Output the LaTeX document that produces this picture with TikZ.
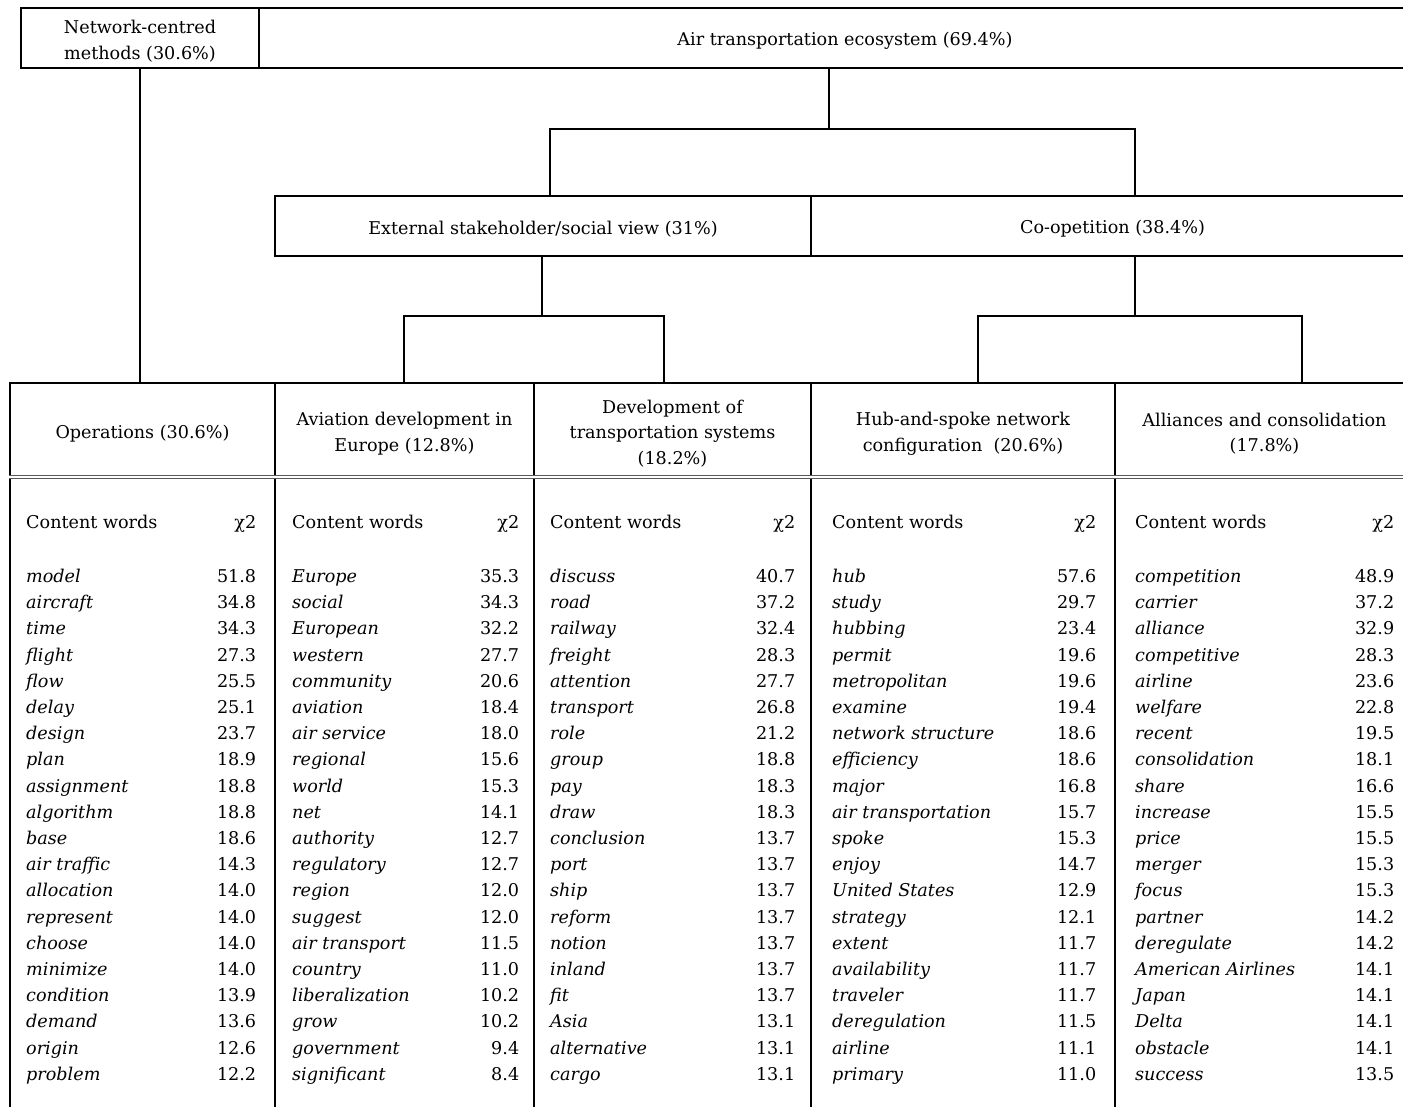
\documentclass[tikz,border=0pt]{standalone}
\usepackage{fontspec}
\setmainfont{DejaVu Serif}
\usepackage{array}
\newcommand\fs{\fontsize{17.6}{25.5}\selectfont}
\newcommand\lfs{\fontsize{17.6}{26.2}\selectfont}
\newcommand\dn{\rule{0pt}{19.6pt}}
\newcommand\wordlist[2]{\lfs\begin{tabular*}{#1}{@{}>{\itshape}l@{\extracolsep{\fill}}r@{}}\upshape Content words & χ2\\[27.8pt]#2\end{tabular*}}
\tikzset{
  box/.style={draw, line width=2.5pt, inner sep=0pt, align=center, font=\fs},
  conn/.style={line width=2.5pt},
  lst/.style={inner sep=0pt, anchor=north west},
}
\begin{document}
\begin{tikzpicture}[x=1pt,y=-1pt]
\clip (0,0) rectangle (1403,1107);
\fill[white] (0,0) rectangle (1403,1107);
% top level
\node[box, minimum width=238, minimum height=60] (net) at (140,38) {\dn Network-centred\\methods (30.6\%)};
\node[box, minimum width=1172, minimum height=60] (air) at (845,38) {\dn Air transportation ecosystem (69.4\%)};
% second level
\node[box, minimum width=536, minimum height=60] (ext) at (543,226) {\dn External stakeholder/social view (31\%)};
\node[box, minimum width=603, minimum height=60] (coop) at (1112.5,226) {\dn Co-opetition (38.4\%)};
% header cells
\node[box, minimum width=265, minimum height=95] (ops) at (142.5,430.5) {\dn Operations (30.6\%)};
\node[box, minimum width=259, minimum height=95] (avi) at (404.5,430.5) {\dn Aviation development in\\Europe (12.8\%)};
\node[box, minimum width=277, minimum height=95] (dev) at (672.5,430.5) {\dn Development of\\transportation systems\\(18.2\%)};
\node[box, minimum width=304, minimum height=95] (hub) at (963,430.5) {\dn Hub-and-spoke network\\configuration\ \ (20.6\%)};
\node[box, minimum width=299, minimum height=95] (alli) at (1264.5,430.5) {\dn Alliances and consolidation\\(17.8\%)};
% body cells
\node[box, minimum width=265, minimum height=660] (b1) at (142.5,808) {};
\node[box, minimum width=259, minimum height=660] (b2) at (404.5,808) {};
\node[box, minimum width=277, minimum height=660] (b3) at (672.5,808) {};
\node[box, minimum width=304, minimum height=660] (b4) at (963,808) {};
\node[box, minimum width=299, minimum height=660] (b5) at (1264.5,808) {};
\draw[draw=black!65, line width=1.4pt, double=white, double distance=1.6pt] (b1.north west) -- (b5.north east);
% connectors
\coordinate (j1) at (829,129);
\coordinate (d1) at (550,129);
\coordinate (d2) at (1135,129);
\coordinate (j2) at (542,316);
\coordinate (d3) at (404,316);
\coordinate (d4) at (664,316);
\coordinate (j3) at (1135,316);
\coordinate (d5) at (978,316);
\coordinate (d6) at (1302,316);
\draw[conn] (net.south) -- (net.south |- ops.north);
\draw[conn] (air.south -| j1) -- (j1);
\draw[conn] (d1 |- ext.north) -- (d1) -- (d2) -- (d2 |- coop.north);
\draw[conn] (ext.south -| j2) -- (j2);
\draw[conn] (d3 |- avi.north) -- (d3) -- (d4) -- (d4 |- dev.north);
\draw[conn] (coop.south -| j3) -- (j3);
\draw[conn] (d5 |- hub.north) -- (d5) -- (d6) -- (d6 |- alli.north);
% word lists
\node[lst] (l1) at (26,510) {\wordlist{230pt}{%
model & 51.8\\ aircraft & 34.8\\ time & 34.3\\ flight & 27.3\\ flow & 25.5\\
delay & 25.1\\ design & 23.7\\ plan & 18.9\\ assignment & 18.8\\ algorithm & 18.8\\
base & 18.6\\ air traffic & 14.3\\ allocation & 14.0\\ represent & 14.0\\ choose & 14.0\\
minimize & 14.0\\ condition & 13.9\\ demand & 13.6\\ origin & 12.6\\ problem & 12.2}};
\node[lst] (l2) at (292,510) {\wordlist{227pt}{%
Europe & 35.3\\ social & 34.3\\ European & 32.2\\ western & 27.7\\ community & 20.6\\
aviation & 18.4\\ air service & 18.0\\ regional & 15.6\\ world & 15.3\\ net & 14.1\\
authority & 12.7\\ regulatory & 12.7\\ region & 12.0\\ suggest & 12.0\\ air transport & 11.5\\
country & 11.0\\ liberalization & 10.2\\ grow & 10.2\\ government & 9.4\\ significant & 8.4}};
\node[lst] (l3) at (550,510) {\wordlist{245pt}{%
discuss & 40.7\\ road & 37.2\\ railway & 32.4\\ freight & 28.3\\ attention & 27.7\\
transport & 26.8\\ role & 21.2\\ group & 18.8\\ pay & 18.3\\ draw & 18.3\\
conclusion & 13.7\\ port & 13.7\\ ship & 13.7\\ reform & 13.7\\ notion & 13.7\\
inland & 13.7\\ fit & 13.7\\ Asia & 13.1\\ alternative & 13.1\\ cargo & 13.1}};
\node[lst] (l4) at (832,510) {\wordlist{264pt}{%
hub & 57.6\\ study & 29.7\\ hubbing & 23.4\\ permit & 19.6\\ metropolitan & 19.6\\
examine & 19.4\\ network structure & 18.6\\ efficiency & 18.6\\ major & 16.8\\ air transportation & 15.7\\
spoke & 15.3\\ enjoy & 14.7\\ United States & 12.9\\ strategy & 12.1\\ extent & 11.7\\
availability & 11.7\\ traveler & 11.7\\ deregulation & 11.5\\ airline & 11.1\\ primary & 11.0}};
\node[lst] (l5) at (1135,510) {\wordlist{259pt}{%
competition & 48.9\\ carrier & 37.2\\ alliance & 32.9\\ competitive & 28.3\\ airline & 23.6\\
welfare & 22.8\\ recent & 19.5\\ consolidation & 18.1\\ share & 16.6\\ increase & 15.5\\
price & 15.5\\ merger & 15.3\\ focus & 15.3\\ partner & 14.2\\ deregulate & 14.2\\
American Airlines & 14.1\\ Japan & 14.1\\ Delta & 14.1\\ obstacle & 14.1\\ success & 13.5}};
\end{tikzpicture}
\end{document}
